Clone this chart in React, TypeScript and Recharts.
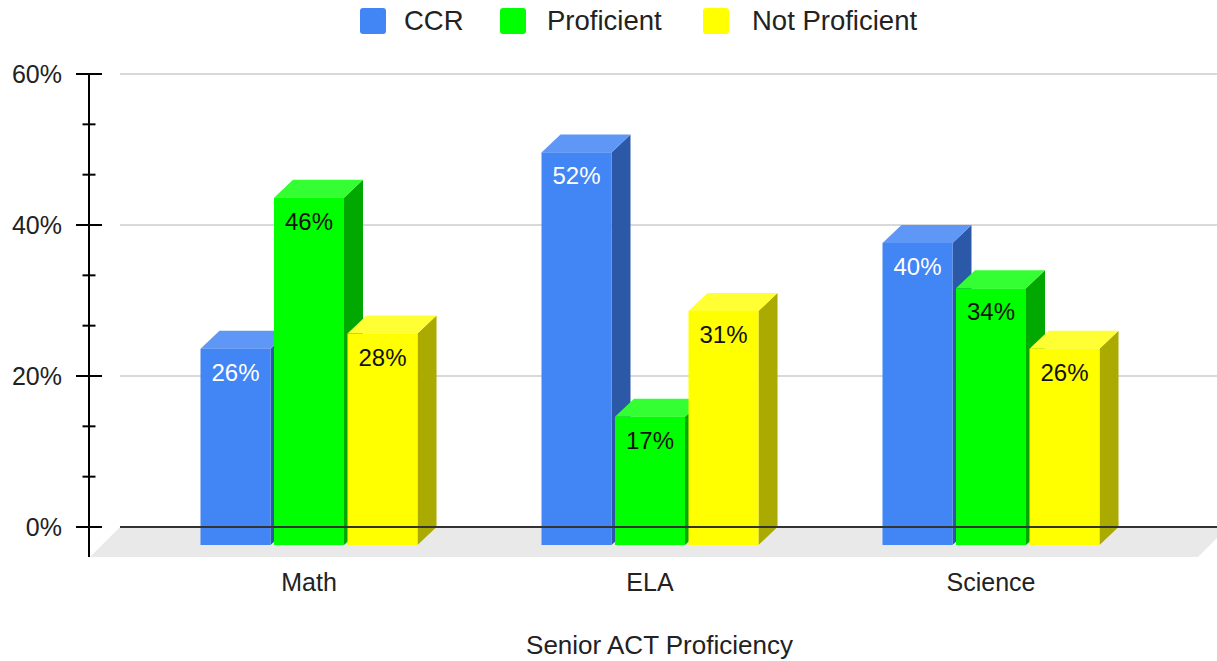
import React from 'react';
import { BarChart, Bar, XAxis, YAxis, CartesianGrid, ReferenceLine, ReferenceArea, Legend, Label } from 'recharts';

const categories = ['Math', 'ELA', 'Science'];
const ccrValues = [26, 52, 40];
const proficientValues = [46, 17, 34];
const notProficientValues = [28, 31, 26];
const seriesNames = ['CCR', 'Proficient', 'Not Proficient'];
const majorTicks = [0, 20, 40, 60];
const minorPerMajor = 3;
const xTitle = 'Senior ACT Proficiency';

const data = categories.map((c, i) => ({
  category: c,
  ccr: ccrValues[i],
  proficient: proficientValues[i],
  notProficient: notProficientValues[i],
}));

const allTicks: number[] = [];
for (let i = 0; i < majorTicks.length - 1; i++) {
  for (let k = 0; k < minorPerMajor; k++) {
    allTicks.push(majorTicks[i] + ((majorTicks[i + 1] - majorTicks[i]) * k) / minorPerMajor);
  }
}
allTicks.push(majorTicks[majorTicks.length - 1]);

const FONT = '"Liberation Sans", Arial, Helvetica, sans-serif';
const DX = 19;
const DY = 18;
const PAD_LEFT = 37.5;
const PAD_RIGHT = 36.5;
const FLOOR_DEPTH = 30;

const palette = {
  ccr: { front: '#4285F4', top: '#5f97f6', side: '#2c58a8', label: '#ffffff' },
  proficient: { front: '#00FF00', top: '#33ff33', side: '#00a800', label: '#111111' },
  notProficient: { front: '#FFFF00', top: '#ffff33', side: '#aaaa00', label: '#111111' },
};

const make3D = (key: 'ccr' | 'proficient' | 'notProficient') => (props: any) => {
  const { x, y, width, height, payload } = props;
  const c = palette[key];
  const bx = x, by = y, bb = y + height;
  const fx = x - DX, fy = y + DY, fb = bb + DY;
  const v = payload[key];
  return (
    <g>
      <polygon points={`${fx + width},${fy} ${bx + width},${by} ${bx + width},${bb} ${fx + width},${fb}`} fill={c.side} />
      <polygon points={`${fx},${fy} ${bx},${by} ${bx + width},${by} ${fx + width},${fy}`} fill={c.top} />
      <rect x={fx} y={fy} width={width} height={fb - fy} fill={c.front} />
      <text x={fx + width / 2} y={fy + 32} textAnchor="middle" fontSize={24} fontFamily={FONT} fill={c.label}>
        {v}%
      </text>
    </g>
  );
};

const Floor = (props: any) => {
  const { x, y, width, height } = props;
  const l = x - PAD_LEFT;
  const r = x + width + PAD_RIGHT;
  return (
    <polygon
      points={`${l},${y} ${r + 11},${y} ${r - 19},${y + height} ${l - FLOOR_DEPTH},${y + height}`}
      fill="#e9e9e9"
    />
  );
};

const YTick = (props: any) => {
  const { x, y, payload } = props;
  const v = payload.value;
  const major = majorTicks.some((m) => Math.abs(m - v) < 1e-6);
  const half = major ? 13 : 6.5;
  return (
    <g>
      <line x1={x - half} x2={x + half} y1={y} y2={y} stroke="#000" strokeWidth={2} />
      {major && (
        <text x={x - 27} y={y} dy="0.35em" textAnchor="end" fontSize={25} fontFamily={FONT} fill="#222">
          {Math.round(v)}%
        </text>
      )}
    </g>
  );
};

const XTick = (props: any) => {
  const { x, y, payload } = props;
  return (
    <text x={x - DX} y={y + 34} textAnchor="middle" fontSize={25} fontFamily={FONT} fill="#222">
      {payload.value}
    </text>
  );
};

const legendColors = [palette.ccr.front, palette.proficient.front, palette.notProficient.front];
const legendSquareX = [360, 500, 703];
const legendTextX = [404, 547, 752];

const LegendContent = () => (
  <div style={{ height: 40, width: 1217, position: 'relative', fontFamily: FONT }}>
    {seriesNames.map((n, i) => (
      <React.Fragment key={n}>
        <div
          style={{ position: 'absolute', left: legendSquareX[i], top: 8, width: 26, height: 26, background: legendColors[i], borderRadius: 3 }}
        />
        <span style={{ position: 'absolute', left: legendTextX[i], top: 6, fontSize: 27.5, color: '#222', lineHeight: '30px', whiteSpace: 'nowrap' }}>
          {n}
        </span>
      </React.Fragment>
    ))}
  </div>
);

const yMin = -(60 * FLOOR_DEPTH) / 453;

export default function App() {
  return (
    <div style={{ width: 1217, height: 661, background: '#fff' }}>
      <style>{'body{margin:0}'}</style>
      <BarChart
        width={1217}
        height={661}
        data={data}
        margin={{ top: 34, right: 0, bottom: 0, left: 0 }}
        barSize={70}
        barGap={3.5}
      >
        <Legend verticalAlign="top" align="left" content={<LegendContent />} wrapperStyle={{ top: 0, left: 0, width: 1217, height: 40 }} />
        <YAxis
          yAxisId="b"
          width={89}
          domain={[yMin, 60]}
          ticks={allTicks}
          allowDataOverflow
          interval={0}
          axisLine={{ stroke: '#000', strokeWidth: 2 }}
          tickLine={false}
          tickSize={0}
          tickMargin={0}
          tick={<YTick />}
        />
        <YAxis yAxisId="a" width={31} axisLine={false} tickLine={false} tick={false} domain={[0, 1]} />
        <XAxis
          dataKey="category"
          padding={{ left: PAD_LEFT, right: PAD_RIGHT }}
          axisLine={false}
          tickLine={false}
          tickSize={0}
          tickMargin={0}
          height={104}
          tick={<XTick />}
        >
          <Label value={xTitle} position="insideBottom" offset={7} dx={-9} fontSize={26} fontFamily={FONT} fill="#222" />
        </XAxis>
        <ReferenceArea yAxisId="b" y1={yMin} y2={0} shape={<Floor />} ifOverflow="visible" />
        <CartesianGrid yAxisId="b" vertical={false} horizontalValues={[20, 40, 60]} stroke="#cccccc" strokeWidth={1.5} />
        <ReferenceLine yAxisId="b" y={0} stroke="#333" strokeWidth={2} />
        <Bar yAxisId="b" dataKey="ccr" name={seriesNames[0]} fill={palette.ccr.front} shape={make3D('ccr')} isAnimationActive={false} />
        <Bar yAxisId="b" dataKey="proficient" name={seriesNames[1]} fill={palette.proficient.front} shape={make3D('proficient')} isAnimationActive={false} />
        <Bar yAxisId="b" dataKey="notProficient" name={seriesNames[2]} fill={palette.notProficient.front} shape={make3D('notProficient')} isAnimationActive={false} />
      </BarChart>
    </div>
  );
}
